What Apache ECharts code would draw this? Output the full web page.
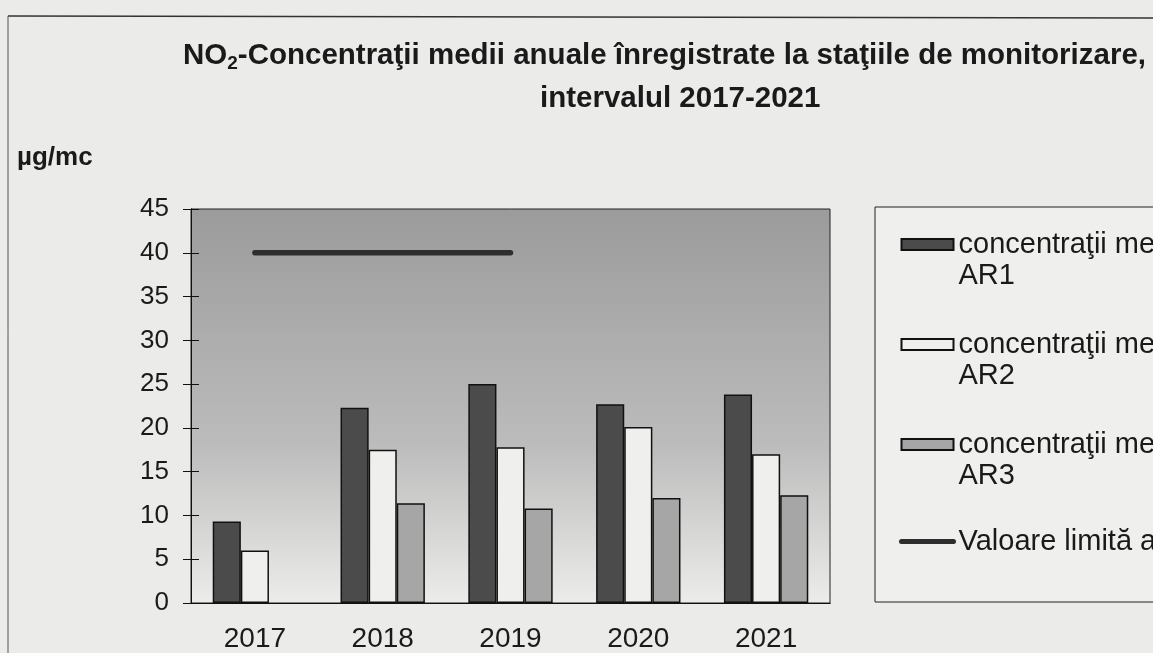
<!DOCTYPE html>
<html>
<head>
<meta charset="utf-8">
<title>NO2 - concentraţii medii anuale</title>
<script src="https://cdn.jsdelivr.net/npm/echarts@6/dist/echarts.min.js"></script>
<style>
    html, body { margin: 0; padding: 0; background: #ebebe9; }
    #chart { width: 1153px; height: 653px; }
</style>
</head>
<body>
<div id="chart"></div>
<script>
// Values
const years = ["2017", "2018", "2019", "2020", "2021"];
const ar1 = [9.3, 22.3, 25.0, 22.7, 23.8];
const ar2 = [6.0, 17.5, 17.8, 20.1, 17.0];
const ar3 = [null, 11.4, 10.8, 12.0, 12.3];
const limit = [40, 40, 40, null, null];
const seriesNames = [
    "concentraţii medii anuale\nAR1",
    "concentraţii medii anuale\nAR2",
    "concentraţii medii anuale\nAR3",
    "Valoare limită anuală",
];

const chart = echarts.init(document.getElementById("chart"));
const font = "'Liberation Sans', Arial, sans-serif";
const ink = "#1a1a1a";
const barBorder = { borderColor: "#111", borderWidth: 1.5 };
const lineColor = "#2e2e2e";

chart.setOption({
    animation: false,
    backgroundColor: "#ebebe9",
    textStyle: { fontFamily: font, color: ink },
    title: [
        {
            left: 183,
            top: 39,
            padding: 0,
            text: "{b|NO}{s|2}{b|-Concentraţii medii anuale înregistrate la staţiile de monitorizare,}",
            textStyle: {
                rich: {
                    b: { fontFamily: font, fontWeight: "bold", fontSize: 29.5, color: ink, lineHeight: 34 },
                    s: { fontFamily: font, fontWeight: "bold", fontSize: 19, color: ink, verticalAlign: "bottom", padding: [14, 0, 0, 0] },
                },
            },
        },
        {
            left: 540,
            top: 84,
            padding: 0,
            text: "intervalul 2017-2021",
            textStyle: { fontFamily: font, fontWeight: "bold", fontSize: 29.5, color: ink },
        },
        {
            left: 17,
            top: 145,
            padding: 0,
            text: "µg/mc",
            textStyle: { fontFamily: font, fontWeight: "bold", fontSize: 26, color: ink },
        },
    ],
    grid: {
        left: 191,
        top: 209,
        right: 323,
        bottom: 49,
        z: -1,
        show: true,
        borderColor: "#222",
        borderWidth: 1,
        backgroundColor: {
            type: "linear", x: 0, y: 0, x2: 0, y2: 1,
            colorStops: [
                { offset: 0, color: "#9b9b9b" },
                { offset: 0.6, color: "#bcbcbc" },
                { offset: 1, color: "#ececea" },
            ],
        },
    },
    legend: {
        orient: "vertical",
        left: 899,
        top: 198,
        padding: 0,
        itemWidth: 52,
        itemHeight: 11,
        itemGap: 7,
        // leading blank line keeps the icon level with the first text line
        formatter: (name) => (name.indexOf("\n") > -1 ? "\n" + name : name),
        textStyle: { fontFamily: font, fontSize: 29, color: ink, lineHeight: 31 },
        data: [
            { name: seriesNames[0], icon: "rect" },
            { name: seriesNames[1], icon: "rect" },
            { name: seriesNames[2], icon: "rect" },
            {
                name: seriesNames[3],
                itemStyle: { opacity: 0 },
                lineStyle: { width: 5, color: lineColor, cap: "round" },
                textStyle: { padding: [28, 0, 28, 0] },
            },
        ],
    },
    xAxis: [
        {
            type: "category",
            data: years,
            position: "bottom",
            z: 3,
            axisLine: { lineStyle: { color: "#111", width: 1 } },
            axisTick: { length: 8, lineStyle: { color: "#111" } },
            axisLabel: { fontFamily: font, fontSize: 28, color: ink, margin: 22 },
        },
        {
            type: "category",
            data: years,
            position: "bottom",
            z: 3,
            axisLine: { show: true, lineStyle: { color: "#111", width: 1 } },
            axisTick: { inside: true, length: 8, lineStyle: { color: "#111" } },
            axisLabel: { show: false },
        },
    ],
    yAxis: [
        {
            type: "value",
            min: 0,
            max: 45,
            interval: 5,
            z: 3,
            splitLine: { show: false },
            axisLine: { show: true, lineStyle: { color: "#111", width: 1 } },
            axisTick: { show: true, length: 8, lineStyle: { color: "#111" } },
            axisLabel: { fontFamily: font, fontSize: 26, color: ink, margin: 22 },
        },
        {
            type: "value",
            min: 0,
            max: 45,
            interval: 5,
            position: "left",
            z: 3,
            splitLine: { show: false },
            axisLine: { show: true, lineStyle: { color: "#111", width: 1 } },
            axisTick: { show: true, inside: true, length: 8, lineStyle: { color: "#111" } },
            axisLabel: { show: false },
        },
    ],
    series: [
        {
            name: seriesNames[0],
            type: "bar",
            data: ar1,
            barGap: "0%",
            barCategoryGap: "34%",
            itemStyle: Object.assign({ color: "#4b4b4b" }, barBorder),
        },
        {
            name: seriesNames[1],
            type: "bar",
            data: ar2,
            itemStyle: Object.assign({ color: "#efefed" }, barBorder),
        },
        {
            name: seriesNames[2],
            type: "bar",
            data: ar3,
            itemStyle: Object.assign({ color: "#a6a6a6" }, barBorder),
        },
        {
            name: seriesNames[3],
            type: "line",
            data: limit,
            symbol: "none",
            connectNulls: false,
            lineStyle: { color: lineColor, width: 5.5, cap: "round" },
            itemStyle: { color: lineColor },
        },
    ],
    graphic: [
        // scanned page frame (top and left edges)
        { type: "line", shape: { x1: 8, y1: 16, x2: 1153, y2: 18 }, style: { stroke: "#333", lineWidth: 1.5 } },
        { type: "line", shape: { x1: 8, y1: 16, x2: 8, y2: 653 }, style: { stroke: "#555", lineWidth: 1 } },
        // legend box
        {
            type: "rect",
            z: -1,
            shape: { x: 875, y: 207, width: 300, height: 395 },
            style: { fill: "#efefed", stroke: "#222", lineWidth: 1 },
        },
    ],
});

window.addEventListener("resize", () => chart.resize());
</script>
</body>
</html>
